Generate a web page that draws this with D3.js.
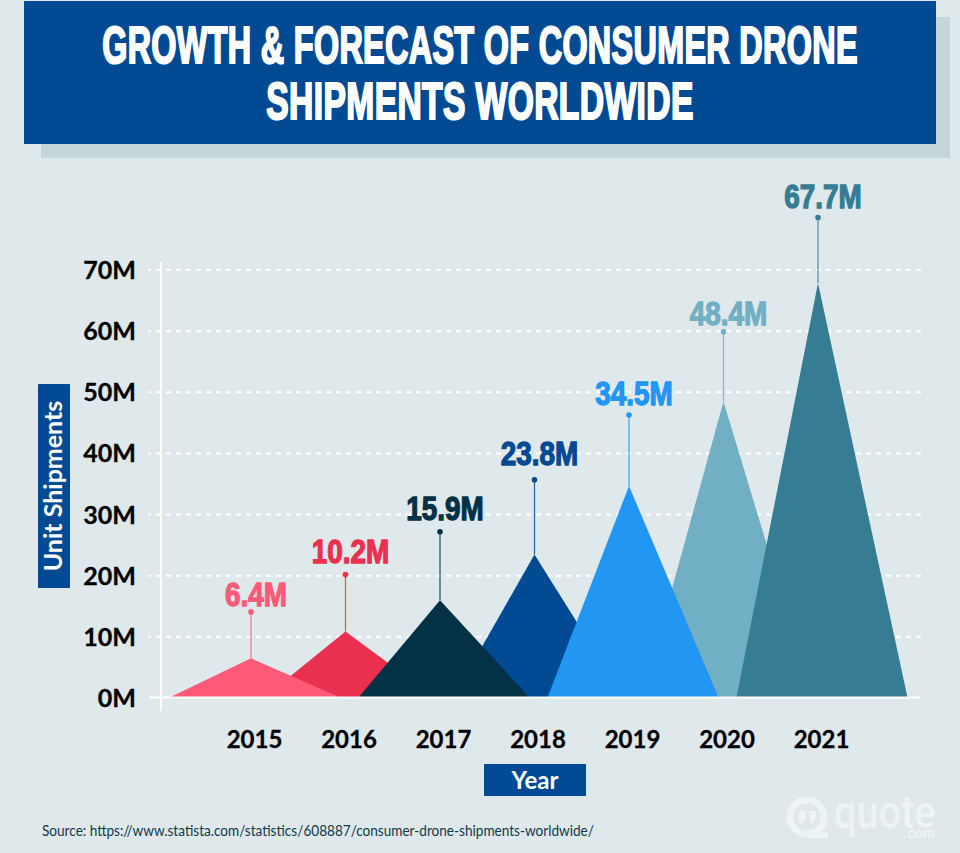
<!DOCTYPE html>
<html>
<head>
<meta charset="utf-8">
<script src="https://cdn.jsdelivr.net/npm/d3@7"></script>
<style>
    html, body { margin: 0; padding: 0; background: #dfe8ea; }
    svg { display: block; }
</style>
</head>
<body>
<div id="chart"></div>
<script>
var years = ["2015", "2016", "2017", "2018", "2019", "2020", "2021"];
var valueLabels = ["6.4M", "10.2M", "15.9M", "23.8M", "34.5M", "48.4M", "67.7M"];
// drawn heights (they stray a little from the printed labels)
var peakHeights = [6.4, 10.8, 15.9, 23.4, 34.6, 48.4, 67.8];
var pinTops = [14.0, 20.1, 27.1, 35.6, 46.2, 59.8, 78.5];
var colors = ["#ff5a78", "#e9304f", "#033145", "#004a94", "#2196f3", "#71afc4", "#367c92"];
var yTicks = [0, 10, 20, 30, 40, 50, 60, 70];
var titleLines = ["GROWTH & FORECAST OF CONSUMER DRONE", "SHIPMENTS WORLDWIDE"];
var sourceText = "Source: https://www.statista.com/statistics/608887/consumer-drone-shipments-worldwide/";

// how far each value label sits above its pin
var labelLift = [6, 12, 12, 15, 10, 7, 10];

var width = 960, height = 853;
var impactFont = "'Liberation Sans', sans-serif";
var axisFont = "Lato, sans-serif";

var svg = d3.select("#chart").append("svg")
    .attr("width", width)
    .attr("height", height);

svg.append("rect")
    .attr("width", width)
    .attr("height", height)
    .attr("fill", "#dfe8ea");

//Title panel with its shadow
svg.append("rect").attr("x", 41).attr("y", 17).attr("width", 909).attr("height", 141).attr("fill", "#c5d6d9");
svg.append("rect").attr("x", 24).attr("y", 1).attr("width", 912).attr("height", 143).attr("fill", "#004a93");

var titleBaselines = [63, 119];
var titleSqueeze = [0.633, 0.659];
svg.selectAll(".title")
    .data(titleLines)
    .enter()
    .append("text")
    .attr("class", "title")
    .attr("transform", function (d, i) {
        return "translate(480," + titleBaselines[i] + ") scale(" + titleSqueeze[i] + ",1)";
    })
    .attr("text-anchor", "middle")
    .style("font-family", impactFont)
    .style("font-weight", "700")
    .style("font-size", "51px")
    .style("letter-spacing", "0.6px")
    .style("fill", "#fff")
    .style("stroke", "#fff")
    .style("stroke-width", 2.2)
    .text(function (d) { return d; });

//Scales
var x = d3.scalePoint().domain(years).range([251, 818]);
var y = d3.scaleLinear().domain([0, 70]).range([697.5, 269.5]);
var halfBase = 85.5;
var baseShift = 4; // the feet sit a little right of the peak

//Grid lines come from the axis ticks
var grid = svg.append("g")
    .attr("transform", "translate(921,0)")
    .call(d3.axisLeft(y).tickValues(yTicks.slice(1)).tickSize(773).tickFormat(""));
grid.select(".domain").remove();
grid.selectAll("line")
    .attr("stroke", "#fff")
    .attr("stroke-width", 2)
    .attr("stroke-dasharray", "5 5");

//Axis labels
var yAxis = svg.append("g")
    .attr("transform", "translate(136,0)")
    .call(d3.axisLeft(y).tickValues(yTicks).tickSize(0).tickPadding(0)
        .tickFormat(function (d) { return d + "M"; }));
yAxis.select(".domain").remove();
yAxis.selectAll("text")
    .attr("dy", "0.36em")
    .style("font-family", axisFont)
    .style("font-weight", "700")
    .style("font-size", "25px")
    .style("fill", "#000")
    .style("stroke", "#000")
    .style("stroke-width", 0.3);

//Pins
var pins = svg.selectAll(".pin")
    .data(years)
    .enter()
    .append("g")
    .attr("class", "pin");
pins.append("line")
    .attr("x1", function (d) { return x(d); })
    .attr("x2", function (d) { return x(d); })
    .attr("y1", function (d, i) { return y(pinTops[i]); })
    .attr("y2", function (d, i) { return y(peakHeights[i]); })
    .attr("stroke", function (d, i) { return colors[i]; })
    .attr("stroke-width", 1.2)
    .attr("stroke-opacity", 0.85);
pins.append("circle")
    .attr("cx", function (d) { return x(d); })
    .attr("cy", function (d, i) { return y(pinTops[i]); })
    .attr("r", 2.8)
    .attr("fill", function (d, i) { return colors[i]; });

//Triangles: even years go underneath their neighbours
var order = d3.range(years.length).sort(function (a, b) { return (b % 2) - (a % 2) || a - b; });
svg.selectAll(".peak")
    .data(order)
    .enter()
    .append("path")
    .attr("class", "peak")
    .attr("d", function (i) {
        var cx = x(years[i]);
        return d3.line()([
            [cx + baseShift - halfBase, y(0)],
            [cx, y(peakHeights[i])],
            [cx + baseShift + halfBase, y(0)]
        ]) + "Z";
    })
    .attr("fill", function (i) { return colors[i]; });

//White axis lines on top of the triangles' feet
svg.append("line").attr("x1", 149).attr("x2", 920).attr("y1", y(0)).attr("y2", y(0))
    .attr("stroke", "#fff").attr("stroke-width", 2);
svg.append("line").attr("x1", 161).attr("x2", 161).attr("y1", 262).attr("y2", 711)
    .attr("stroke", "#fff").attr("stroke-width", 2);

//Value labels
svg.selectAll(".value")
    .data(valueLabels)
    .enter()
    .append("text")
    .attr("class", "value")
    .attr("transform", function (d, i) {
        return "translate(" + (x(years[i]) + 5) + "," + (y(pinTops[i]) - labelLift[i]) + ") scale(0.82,1)";
    })
    .attr("text-anchor", "middle")
    .style("font-family", impactFont)
    .style("font-weight", "700")
    .style("font-size", "34px")
    .style("fill", function (d, i) { return colors[i]; })
    .style("stroke", function (d, i) { return colors[i]; })
    .style("stroke-width", 1.3)
    .text(function (d) { return d; });

//Year labels
svg.selectAll(".year")
    .data(years)
    .enter()
    .append("text")
    .attr("class", "year")
    .attr("x", function (d) { return x(d) + 3.5; })
    .attr("y", 748)
    .attr("text-anchor", "middle")
    .style("font-family", axisFont)
    .style("font-weight", "700")
    .style("font-size", "24px")
    .style("fill", "#000")
    .style("stroke", "#000")
    .style("stroke-width", 0.3)
    .text(function (d) { return d; });

//Axis titles
svg.append("rect").attr("x", 38).attr("y", 384).attr("width", 32).attr("height", 204).attr("rx", 1).attr("fill", "#004a93");
svg.append("text")
    .attr("transform", "translate(62,486) rotate(-90)")
    .attr("text-anchor", "middle")
    .style("font-family", axisFont)
    .style("font-weight", "700")
    .style("font-size", "25px")
    .style("fill", "#fff")
    .text("Unit Shipments");

svg.append("rect").attr("x", 484).attr("y", 764).attr("width", 102).attr("height", 32).attr("rx", 1).attr("fill", "#004a93");
svg.append("text")
    .attr("x", 535)
    .attr("y", 789)
    .attr("text-anchor", "middle")
    .style("font-family", axisFont)
    .style("font-weight", "700")
    .style("font-size", "24px")
    .style("fill", "#fff")
    .text("Year");

//Source line
svg.append("text")
    .attr("transform", "translate(42,836) scale(0.937,1)")
    .style("font-family", axisFont)
    .style("font-size", "14.5px")
    .style("fill", "#12384a")
    .text(sourceText);

//Watermark logo
var logo = svg.append("g").attr("fill", "#eef3f4");
logo.append("circle")
    .attr("cx", 807).attr("cy", 817).attr("r", 17)
    .attr("fill", "none").attr("stroke", "#eef3f4").attr("stroke-width", 7);
logo.append("rect").attr("x", 808).attr("y", 832).attr("width", 20).attr("height", 6);
logo.append("path").attr("d", "M799 811h7v7l-3 5h-4z");
logo.append("path").attr("d", "M809 811h7v7l-3 5h-3z");
logo.append("text")
    .attr("transform", "translate(834,828) scale(0.864,1)")
    .style("font-family", "Roboto, sans-serif")
    .style("font-weight", "500")
    .style("font-size", "46px")
    .text("quote");
logo.append("text")
    .attr("x", 935).attr("y", 838)
    .attr("text-anchor", "end")
    .style("font-family", "Roboto, sans-serif")
    .style("font-weight", "700")
    .style("font-size", "14px")
    .text(".com");
</script>
</body>
</html>
